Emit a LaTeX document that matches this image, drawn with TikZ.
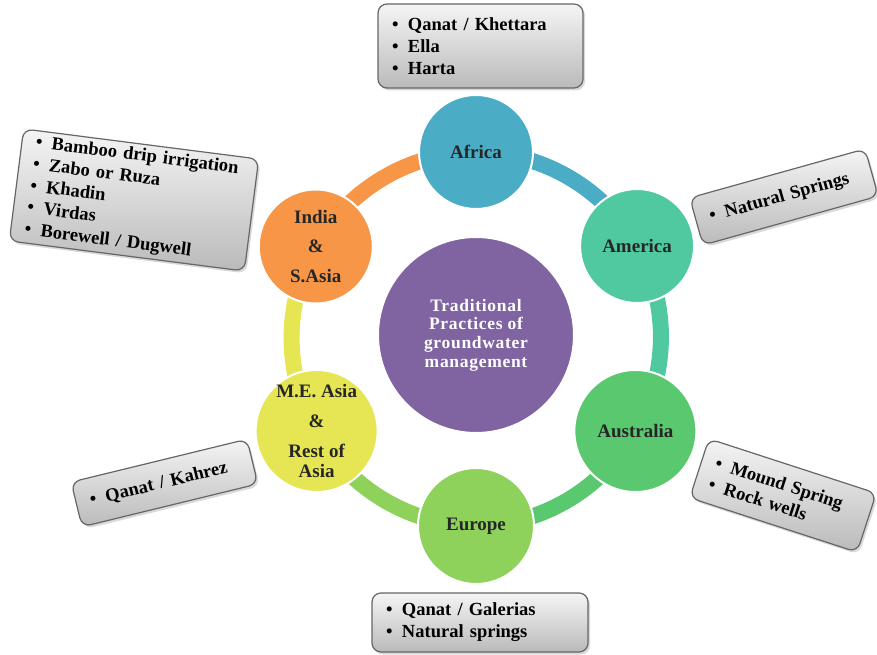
\documentclass[tikz,border=0pt]{standalone}
\usepackage{fontspec}
\setmainfont{Liberation Serif}
\newfontfamily\widefont[LetterSpace=4]{Liberation Serif}
\usetikzlibrary{shadows,backgrounds}

\definecolor{hubpurple}{RGB}{128,100,162}
\definecolor{africablue}{RGB}{75,172,198}
\definecolor{americateal}{RGB}{80,200,160}
\definecolor{australiagreen}{RGB}{90,200,110}
\definecolor{europegreen}{RGB}{142,210,92}
\definecolor{asiayellow}{RGB}{230,230,84}
\definecolor{indiaorange}{RGB}{247,150,70}

\newcommand{\itembul}{\makebox[16pt][l]{\textbullet}}

\tikzset{
  region/.style={circle, fill=#1, draw=white, line width=2pt, inner sep=0pt},
  regiontext/.style={font=\fontsize{19}{20}\selectfont\bfseries, align=center, text=black!85},
  ring/.style={draw=#1, line width=16pt},
  infobox/.style={rounded corners=9pt, draw=black!60, line width=1.2pt,
    top color=black!4, bottom color=black!27,
    drop shadow={opacity=0.3, shadow xshift=2pt, shadow yshift=-2.5pt},
    font=\fontsize{18.5}{22}\selectfont\bfseries, align=left, inner xsep=14pt, inner ysep=4pt}
}

\begin{document}
\begin{tikzpicture}[x=1pt,y=1pt]
    \useasboundingbox (-476,-316) rectangle (401,339);

    %Hub
    \node[region=hubpurple, minimum size=196pt, text=white, align=center,
          font=\widefont\bfseries\fontsize{17.5}{18.7}\selectfont] (hub) at (0,4)
        {Traditional\\Practices of\\groundwater\\management};

    %Regions round the ring
    \node[region=africablue, minimum size=114pt, label={[regiontext]center:Africa}] (africa) at (90:187) {};
    \node[region=americateal, minimum size=114pt, label={[regiontext]center:America}] (america) at (30:186) {};
    \node[region=australiagreen, minimum size=122pt, label={[regiontext]center:Australia}] (australia) at (-30:184) {};
    \node[region=europegreen, minimum size=116pt, label={[regiontext]center:Europe}] (europe) at (-90:187) {};
    \node[region=asiayellow, minimum size=122pt,
          label={[regiontext]center:M.E. Asia\\[10pt]\&\\[10pt]Rest of\\Asia}] (measia) at (-150:184) {};
    \node[region=indiaorange, minimum size=114pt,
          label={[regiontext]center:India\\[9.5pt]\&\\[9.5pt]S.Asia}] (india) at (150:185) {};

    %Ring
    \begin{scope}[on background layer]
        \draw[ring=indiaorange] (india.center) to[bend left=30, looseness=0.91] (africa.center);
        \draw[ring=africablue] (africa.center) to[bend left=30, looseness=0.91] (america.center);
        \draw[ring=americateal] (america.center) to[bend left=30, looseness=0.91] (australia.center);
        \draw[ring=australiagreen] (australia.center) to[bend left=30, looseness=0.91] (europe.center);
        \draw[ring=europegreen] (europe.center) to[bend left=30, looseness=0.91] (measia.center);
        \draw[ring=asiayellow] (measia.center) to[bend left=30, looseness=0.91] (india.center);
    \end{scope}

    %Practice boxes
    \node[infobox, text width=177pt, minimum height=84pt] (africabox) at (4.5,293)
        {\itembul Qanat / Khettara\\\itembul Ella\\\itembul Harta};
    \node[infobox, text width=154pt, minimum height=49pt, rotate=15.6] (americabox) at (308,142)
        {\itembul Natural Springs};
    \node[infobox, text width=148pt, minimum height=62pt, rotate=-18] (australiabox) at (307,-156.5)
        {\itembul Mound Spring\\\itembul Rock wells};
    \node[infobox, text width=188pt, minimum height=59pt] (europebox) at (4,-283.5)
        {\itembul Qanat / Galerias\\\itembul Natural springs};
    \node[infobox, text width=153pt, minimum height=46pt, rotate=13.7] (measiabox) at (-311.5,-144)
        {\itembul Qanat / Kahrez};
    \node[infobox, text width=209pt, minimum height=102pt, rotate=-7.3] (indiabox) at (-342,139)
        {\itembul Bamboo drip irrigation\\\itembul Zabo or Ruza\\\itembul Khadin\\\itembul Virdas\\\itembul Borewell / Dugwell};
\end{tikzpicture}
\end{document}
